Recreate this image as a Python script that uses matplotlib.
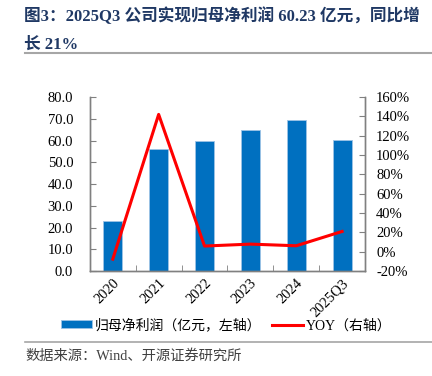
import matplotlib
matplotlib.use('Agg')
import matplotlib.pyplot as plt
from matplotlib.lines import Line2D
import numpy as np

plt.rcParams['font.family'] = ['Liberation Serif', 'Noto Sans CJK SC']

# datos
years = ['2020', '2021', '2022', '2023', '2024', '2025Q3']
profit = [22.8, 56.0, 59.6, 64.7, 69.3, 60.23]
yoy = [-7.6, 142.0, 5.9, 7.9, 6.2, 21.0]

bar_color = '#0070C0'
line_color = '#FF0000'
spine_color = '#808080'

fig = plt.figure(figsize=(4.32, 3.76), dpi=100)
ax = fig.add_axes([0.208, 0.279, 0.637, 0.463])
ax2 = ax.twinx()

x = np.arange(len(years))
bars = ax.bar(x, profit, width=0.41, color=bar_color, edgecolor='#9DC3E6', linewidth=0.6,
              label='归母净利润（亿元，左轴）', zorder=2)
line, = ax2.plot(x, yoy, color=line_color, linewidth=2.2, label='YOY（右轴）', zorder=3)

ax.set_xlim(-0.5, len(years) - 0.5)
ax.set_ylim(0, 80)
ax.set_yticks(np.arange(0, 81, 10))
ax.set_yticklabels(['%.1f' % v for v in np.arange(0, 81, 10)])
ax2.set_ylim(-20, 160)
ax2.set_yticks(np.arange(-20, 161, 20))
ax2.set_yticklabels(['%d%%' % v for v in np.arange(-20, 161, 20)])

# ticks entre categorias
ax.set_xticks(x)
ax.set_xticklabels(years, rotation=45, ha='right', va='top', rotation_mode='anchor', fontsize=10.5)
ax.set_xticks(np.arange(-0.5, len(years), 1), minor=True)
ax.tick_params(axis='x', which='major', length=0, pad=4)
ax.tick_params(axis='x', which='minor', length=4, direction='in', color=spine_color)
ax.tick_params(axis='y', direction='in', length=4, color=spine_color, labelsize=10.5, pad=12)
ax2.tick_params(axis='y', direction='in', length=4, color=spine_color, labelsize=10.5, pad=8)

for a in (ax, ax2):
    a.spines['top'].set_visible(False)
    for s in ('left', 'right', 'bottom'):
        a.spines[s].set_color(spine_color)
        a.spines[s].set_linewidth(1.0)

# titulo
fig.text(0.055, 0.958, '图3：2025Q3 公司实现归母净利润 60.23 亿元，同比增', fontsize=12.0,
         fontweight='bold', color='#1F3864', ha='left', va='center')
fig.text(0.055, 0.882, '长 21%', fontsize=12.0, fontweight='bold', color='#1F3864',
         ha='left', va='center')
fig.add_artist(Line2D([0.058, 1.0], [0.858, 0.858], color='#A6A6A6', linewidth=1.5))

# leyenda
fig.legend(handles=[bars, line], loc='center', bbox_to_anchor=(0.524, 0.135), ncol=2,
           frameon=False, fontsize=10, handlelength=2.2, handleheight=0.5,
           columnspacing=0.8, handletextpad=0.2)

# fuente
fig.add_artist(Line2D([0.058, 1.0], [0.09, 0.09], color='#A6A6A6', linewidth=1.2))
fig.text(0.058, 0.053, '数据来源：Wind、开源证券研究所', fontsize=10.3, color='#404040',
         ha='left', va='center')

plt.savefig('out.png', dpi=100)
